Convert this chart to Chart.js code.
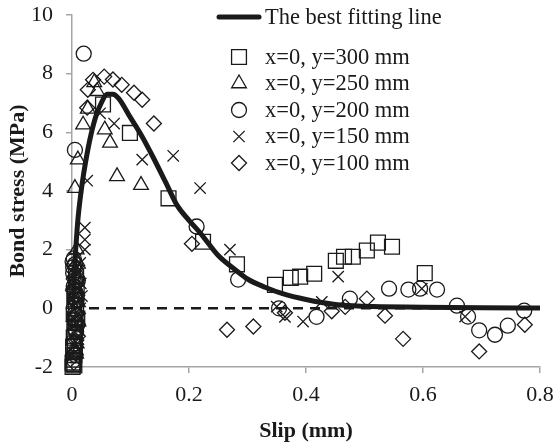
<!DOCTYPE html>
<html>
<head>
<meta charset="utf-8">
<script src="https://cdn.jsdelivr.net/npm/chart.js@4/dist/chart.umd.min.js"></script>
<style>
  html, body { margin: 0; padding: 0; background: #fff; }
  #wrap { width: 557px; height: 447px; }
</style>
</head>
<body>
<div id="wrap"><canvas id="myChart" width="557" height="447"></canvas></div>
<script>
// fitted bond-slip curve
const fitX = [0, 0.005, 0.01, 0.015, 0.02, 0.03, 0.04, 0.05, 0.06, 0.07, 0.08, 0.1, 0.12, 0.14, 0.16, 0.18, 0.2, 0.22, 0.25, 0.28, 0.3, 0.33, 0.36, 0.4, 0.45, 0.5, 0.6, 0.7, 0.8];
const fitY = [0, 1.6, 3.0, 3.9, 4.6, 5.7, 6.5, 7.0, 7.3, 7.3, 7.15, 6.5, 5.85, 5.1, 4.3, 3.5, 3.0, 2.55, 1.8, 1.3, 1.0, 0.72, 0.5, 0.3, 0.13, 0.07, 0.04, 0.02, 0.01];

// measured points, x=0 and y = 300 / 250 / 200 / 150 / 100 mm
const s300X = [0.002, 0.003, 0.004, 0.002, 0.005, 0.004, 0.006, 0.003, 0.007, 0.005, 0.008, 0.001, 0.002, 0.003, 0.006, 0.009, 0.004, 0.007, 0.001, 0.004, 0.053, 0.099, 0.165, 0.224, 0.282, 0.347, 0.374, 0.39, 0.414, 0.451, 0.465, 0.48, 0.504, 0.523, 0.547, 0.603];
const s300Y = [-1.9, -1.75, -1.6, -1.45, -1.2, -0.8, -0.5, -0.2, 0.1, 0.4, 0.8, -1.85, -1.3, -1.0, -0.65, -0.35, 0.25, 1.1, -2.0, -1.95, 6.95, 5.98, 3.75, 2.27, 1.5, 0.8, 1.04, 1.08, 1.18, 1.62, 1.76, 1.76, 1.97, 2.24, 2.1, 1.2];

const s250X = [0.038, 0.043, 0.027, 0.019, 0.056, 0.065, 0.01, 0.077, 0.118, 0.005, 0.008, 0.004, 0.006, 0.003, 0.007, 0.005, 0.009, 0.002, 0.006, 0.004, 0.008, 0.003, 0.01, 0.011, 0.007];
const s250Y = [7.7, 7.4, 6.8, 6.26, 6.09, 5.64, 5.07, 4.5, 4.2, 4.1, 2.0, 1.2, 0.5, -0.3, -0.9, -1.4, 1.6, 0.8, -0.1, -0.6, -1.2, -1.7, 0.2, -0.45, -1.55];

const s200X = [0.02, 0.005, 0.213, 0.284, 0.354, 0.418, 0.475, 0.542, 0.575, 0.595, 0.624, 0.658, 0.677, 0.696, 0.723, 0.745, 0.773, 0.003, 0.005, 0.002, 0.006, 0.004, 0.008, 0.003, 0.005, 0.007, 0.004, 0.006, 0.002, 0.007, 0.003, 0.008, 0.005, 0.009, 0.001, 0.01];
const s200Y = [8.68, 5.4, 2.79, 0.98, 0.0, -0.29, 0.33, 0.67, 0.64, 0.67, 0.64, 0.09, -0.28, -0.75, -0.9, -0.59, -0.08, 1.7, 1.5, 1.2, 0.9, 0.6, 0.3, 0.0, -0.4, -0.8, -1.2, -1.6, 1.4, 1.1, 0.75, 0.45, -0.2, -0.55, 1.6, 0.95];

const s150X = [0.048, 0.072, 0.12, 0.173, 0.219, 0.27, 0.35, 0.364, 0.395, 0.427, 0.455, 0.598, 0.672, 0.026, 0.022, 0.022, 0.022, 0.014, 0.007, 0.017, 0.014, 0.01, 0.01, 0.007, 0.012, 0.009, 0.013, 0.011, 0.008, 0.012, 0.015, 0.006];
const s150Y = [6.65, 6.3, 5.07, 5.2, 4.1, 2.0, 0.06, -0.29, -0.45, 0.22, 1.08, 0.67, -0.28, 4.35, 2.75, 2.34, 2.0, 1.55, 0.9, 0.42, 0.0, -0.73, -1.4, -1.8, 1.2, 0.65, -0.35, -1.05, -0.55, 0.25, 0.85, -1.25];

const s100X = [0.055, 0.07, 0.085, 0.106, 0.12, 0.027, 0.036, 0.14, 0.026, 0.205, 0.265, 0.31, 0.364, 0.444, 0.467, 0.504, 0.535, 0.566, 0.696, 0.774, 0.003, 0.006, 0.004, 0.007, 0.005, 0.008, 0.002, 0.006, 0.004, 0.009, 0.003, 0.01];
const s100Y = [7.9, 7.8, 7.62, 7.35, 7.11, 7.45, 7.79, 6.3, 6.84, 2.2, -0.73, -0.62, -0.15, -0.1, 0.05, 0.33, -0.25, -1.04, -1.47, -0.56, 1.0, 0.2, -0.5, -1.1, 1.4, -0.2, 0.6, -0.8, -1.5, 0.45, -1.85, -0.95];

const zeroX = [0, 0.8];
const zeroY = [0, 0];

const xTicks = [0, 0.2, 0.4, 0.6, 0.8];
const yTicks = [-2, 0, 2, 4, 6, 8, 10];

const toPoints = (xs, ys) => xs.map((x, i) => ({ x: x, y: ys[i] }));

const ink = "#1a1a1a";
const axisGrey = "#a6a6a6";
const serif = "'Liberation Serif', 'Times New Roman', serif";

const markerSet = (label, xs, ys, style, radius) => ({
	type: "scatter",
	label: label,
	data: toPoints(xs, ys),
	pointStyle: style,
	pointRadius: radius,
	pointHoverRadius: radius,
	pointBorderWidth: 1.3,
	pointBorderColor: ink,
	pointBackgroundColor: "rgba(0,0,0,0)",
	borderColor: ink,
	showLine: false,
	clip: false,
	order: 1,
});

const datasets = [
	{
		type: "line",
		label: "The best fitting line",
		data: toPoints(fitX, fitY),
		borderColor: ink,
		borderWidth: 5,
		pointRadius: 0,
		cubicInterpolationMode: "monotone",
		fill: false,
		order: 0,
	},
	markerSet("x=0, y=300 mm", s300X, s300Y, "rect", 10.5),
	markerSet("x=0, y=250 mm", s250X, s250Y, "triangle", 8.5),
	markerSet("x=0, y=200 mm", s200X, s200Y, "circle", 7.5),
	markerSet("x=0, y=150 mm", s150X, s150Y, "crossRot", 8),
	markerSet("x=0, y=100 mm", s100X, s100Y, "rectRot", 7.5),
	{
		type: "line",
		label: "zero",
		data: toPoints(zeroX, zeroY),
		borderColor: ink,
		borderWidth: 2.5,
		borderDash: [10, 7],
		pointRadius: 0,
		fill: false,
		order: 2,
	},
];

// legend drawn by hand: line entry on top, marker entries below
const legendPlugin = {
	id: "sideLegend",
	afterDraw(chart) {
		const ctx = chart.ctx;
		const textX = 265;
		ctx.save();
		ctx.font = "22.5px " + serif;
		ctx.fillStyle = ink;
		ctx.textBaseline = "middle";
		ctx.textAlign = "left";

		ctx.strokeStyle = ink;
		ctx.lineWidth = 5;
		ctx.lineCap = "round";
		ctx.beginPath();
		ctx.moveTo(219, 17);
		ctx.lineTo(259, 17);
		ctx.stroke();
		ctx.fillText(datasets[0].label, textX, 18);

		const rows = [57, 83.5, 110, 136.5, 163];
		for (let i = 1; i <= 5; i++) {
			const ds = datasets[i];
			const y = rows[i - 1];
			ctx.strokeStyle = ink;
			ctx.fillStyle = "rgba(0,0,0,0)";
			ctx.lineWidth = 1.3;
			ctx.lineCap = "butt";
			Chart.helpers.drawPoint(ctx, {
				pointStyle: ds.pointStyle,
				radius: ds.pointRadius,
				rotation: 0,
				borderWidth: 1.3,
			}, 239, y);
			ctx.fillStyle = ink;
			ctx.fillText(ds.label, textX, y + 1);
		}
		ctx.restore();
	},
};

const config = {
	data: { datasets },
	options: {
		responsive: false,
		animation: false,
		layout: { padding: { top: 15, right: 17, left: 0, bottom: 2 } },
		plugins: {
			legend: { display: false },
			tooltip: { enabled: false },
		},
		scales: {
			x: {
				type: "linear",
				min: 0,
				max: 0.8,
				afterBuildTicks: (scale) => {
					scale.ticks = xTicks.map((v) => ({ value: v }));
				},
				afterFit: (scale) => {
					scale.height = 78;
					scale.paddingLeft = 0;
					scale.paddingRight = 0;
				},
				border: { color: axisGrey, width: 1.5 },
				grid: { display: true, drawOnChartArea: false, drawTicks: true, tickLength: 6, color: axisGrey, lineWidth: 1.5 },
				ticks: {
					color: ink,
					font: { family: serif, size: 22 },
					padding: 9,
					maxRotation: 0,
					callback: (v) => String(v),
				},
				title: {
					display: true,
					text: "Slip (mm)",
					color: ink,
					font: { family: serif, size: 22, weight: "bold" },
					padding: { top: 0, bottom: 0 },
				},
			},
			y: {
				type: "linear",
				min: -2,
				max: 10,
				afterBuildTicks: (scale) => {
					scale.ticks = yTicks.map((v) => ({ value: v }));
				},
				afterFit: (scale) => {
					scale.width = 72;
					scale.paddingTop = 0;
					scale.paddingBottom = 0;
				},
				border: { color: axisGrey, width: 1.5 },
				grid: { display: true, drawOnChartArea: false, drawTicks: true, tickLength: 6, color: axisGrey, lineWidth: 1.5 },
				ticks: {
					color: ink,
					font: { family: serif, size: 22 },
					padding: 13,
				},
				title: {
					display: true,
					text: "Bond stress (MPa)",
					color: ink,
					font: { family: serif, size: 22, weight: "bold" },
					padding: { top: 5, bottom: 0 },
				},
			},
		},
	},
	plugins: [legendPlugin],
};

const myChart = new Chart(document.getElementById("myChart"), config);
</script>
</body>
</html>
